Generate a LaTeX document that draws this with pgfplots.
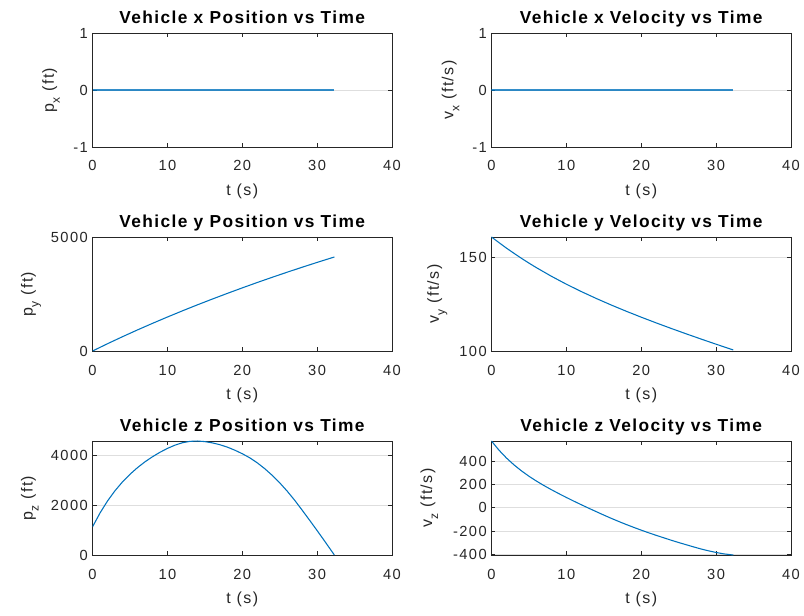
\documentclass[border=0pt]{standalone}
\usepackage{fontspec}
\setmainfont{Liberation Sans}
\newfontfamily\tickfont[LetterSpace=10]{Liberation Sans}
\newfontfamily\labfont[LetterSpace=9]{Liberation Sans}
\newfontfamily\titfont[LetterSpace=8]{Liberation Sans}
\usepackage{pgfplots}
\pgfplotsset{compat=1.18}
\usepackage{pgfplotstable}
\definecolor{mblue}{rgb}{0,0.447,0.741}
\definecolor{mtext}{rgb}{0.15,0.15,0.15}
\definecolor{mgrid}{rgb}{0.87,0.87,0.87}
\newcommand\sub[1]{\raisebox{-4.5pt}{\fontsize{9}{10}\selectfont #1}}

\pgfplotstableread{
t v
0 0
32.3 0
}\zeroline

\pgfplotstableread{
t v
0 0
2 319
4 627
6 924
8 1211
10 1490
12 1760
14 2023
16 2278
18 2526
20 2768
22 3004
24 3233
26 3456
28 3674
30 3886
32.3 4123
}\py

\pgfplotstableread{
t v
0 161.0
1 158.0
2 155.05
3 152.3
4 149.6
5 147.05
6 144.6
8 140.0
10 135.75
12 131.8
14 128.1
16 124.6
18 121.28
20 118.1
22 115.04
24 112.08
26 109.2
28 106.39
30 103.64
32.3 100.54
}\vy

\pgfplotstableread{
t v
0 1130
1 1687
2 2167
3 2579
4 2933
5 3239
6 3505
7 3738
8 3942
9 4121
10 4277
11 4407
12 4505
13 4560
14 4574
15 4550
16 4500
17 4427
18 4330
19 4207
20 4065
21 3901
22 3700
23 3465
24 3197
25 2897
26 2563
27 2197
28 1800
29 1393
30 980
31 559
32.3 0
}\pz

\pgfplotstableread{
t v
0 578
1 499
2 431
3 372
4 320
5 273.5
6 231.5
7 193
8 157
9 122.75
10 89.75
11 57.75
12 26.75
13 -3.5
14 -33.25
15 -62.5
16 -91
17 -118
18 -144
19 -169
20 -193
21 -216
22 -238
23 -259
24 -280
25 -300
26 -319
27 -338
28 -356
29 -372
30 -386
31 -398
32.3 -408
}\vz

\pgfplotsset{
  mystyle/.style={
    scale only axis, width=224.6pt, height=85.5pt,
    anchor=south west,
    axis line style={mtext, line width=0.6pt},
    xmin=0, xmax=40, xtick={0,10,20,30,40},
    tick align=inside, major tick length=3pt, minor tick num=0,
    every tick/.style={mtext, line width=0.5pt},
    ymajorgrids, grid style={mgrid, line width=0.6pt},
    /pgf/number format/assume math mode=true,
    /pgf/number format/1000 sep={},
    scaled ticks=false,
    tick label style={font=\tickfont\fontsize{11}{13}\selectfont, text=mtext},
    xticklabel style={anchor=base, yshift=-18pt},
    label style={font=\labfont\fontsize{12}{14}\selectfont, text=mtext},
    every axis title shift=0pt,
    title style={font=\titfont\bfseries\fontsize{13}{15}\selectfont, text=black, at={(0.5,1)}, anchor=base, yshift=7pt},
    xlabel={t (s)},
    xlabel style={at={([yshift=-36.5pt]axis description cs:0.5,0)}, anchor=base},
  },
  yl/.style={ylabel style={at={([xshift=-#1]axis description cs:0,0.5)}, anchor=base, rotate=0}},
}

\begin{document}
\begin{tikzpicture}
\path[use as bounding box] (0,0) rectangle (603pt,461.25pt);

% Row 1 left
\begin{axis}[mystyle, at={(69.4pt,351pt)}, ymin=-1, ymax=1, ytick={-1,0,1},
  title={Vehicle x Position vs Time}, ylabel={p\sub{x} (ft)}, yl=29pt]
\addplot[mblue, line width=1.3pt, opacity=0.8] table[x=t,y=v] {\zeroline};
\end{axis}

% Row 1 right
\begin{axis}[mystyle, at={(368.6pt,351pt)}, ymin=-1, ymax=1, ytick={-1,0,1},
  title={Vehicle x Velocity vs Time}, ylabel={v\sub{x} (ft/s)}, yl=28.5pt]
\addplot[mblue, line width=1.3pt, opacity=0.8] table[x=t,y=v] {\zeroline};
\end{axis}

% Row 2 left
\begin{axis}[mystyle, at={(69.4pt,198pt)}, ymin=0, ymax=5000, ytick={0,5000},
  title={Vehicle y Position vs Time}, ylabel={p\sub{y} (ft)}, yl=45pt]
\addplot[mblue, line width=0.8pt] table[x=t,y=v] {\py};
\end{axis}

% Row 2 right
\begin{axis}[mystyle, at={(368.6pt,198pt)}, ymin=100, ymax=161, ytick={100,150},
  title={Vehicle y Velocity vs Time}, ylabel={v\sub{y} (ft/s)}, yl=39.5pt]
\addplot[mblue, line width=0.8pt] table[x=t,y=v] {\vy};
\end{axis}

% Row 3 left
\begin{axis}[mystyle, at={(69.4pt,45pt)}, ymin=0, ymax=4575, ytick={0,2000,4000},
  title={Vehicle z Position vs Time}, ylabel={p\sub{z} (ft)}, yl=45pt]
\addplot[mblue, line width=0.8pt] table[x=t,y=v] {\pz};
\end{axis}

% Row 3 right
\begin{axis}[mystyle, at={(368.6pt,45pt)}, ymin=-408, ymax=578, ytick={-400,-200,0,200,400},
  title={Vehicle z Velocity vs Time}, ylabel={v\sub{z} (ft/s)}, yl=44.5pt]
\addplot[mblue, line width=0.8pt] table[x=t,y=v] {\vz};
\end{axis}
\end{tikzpicture}
\end{document}
